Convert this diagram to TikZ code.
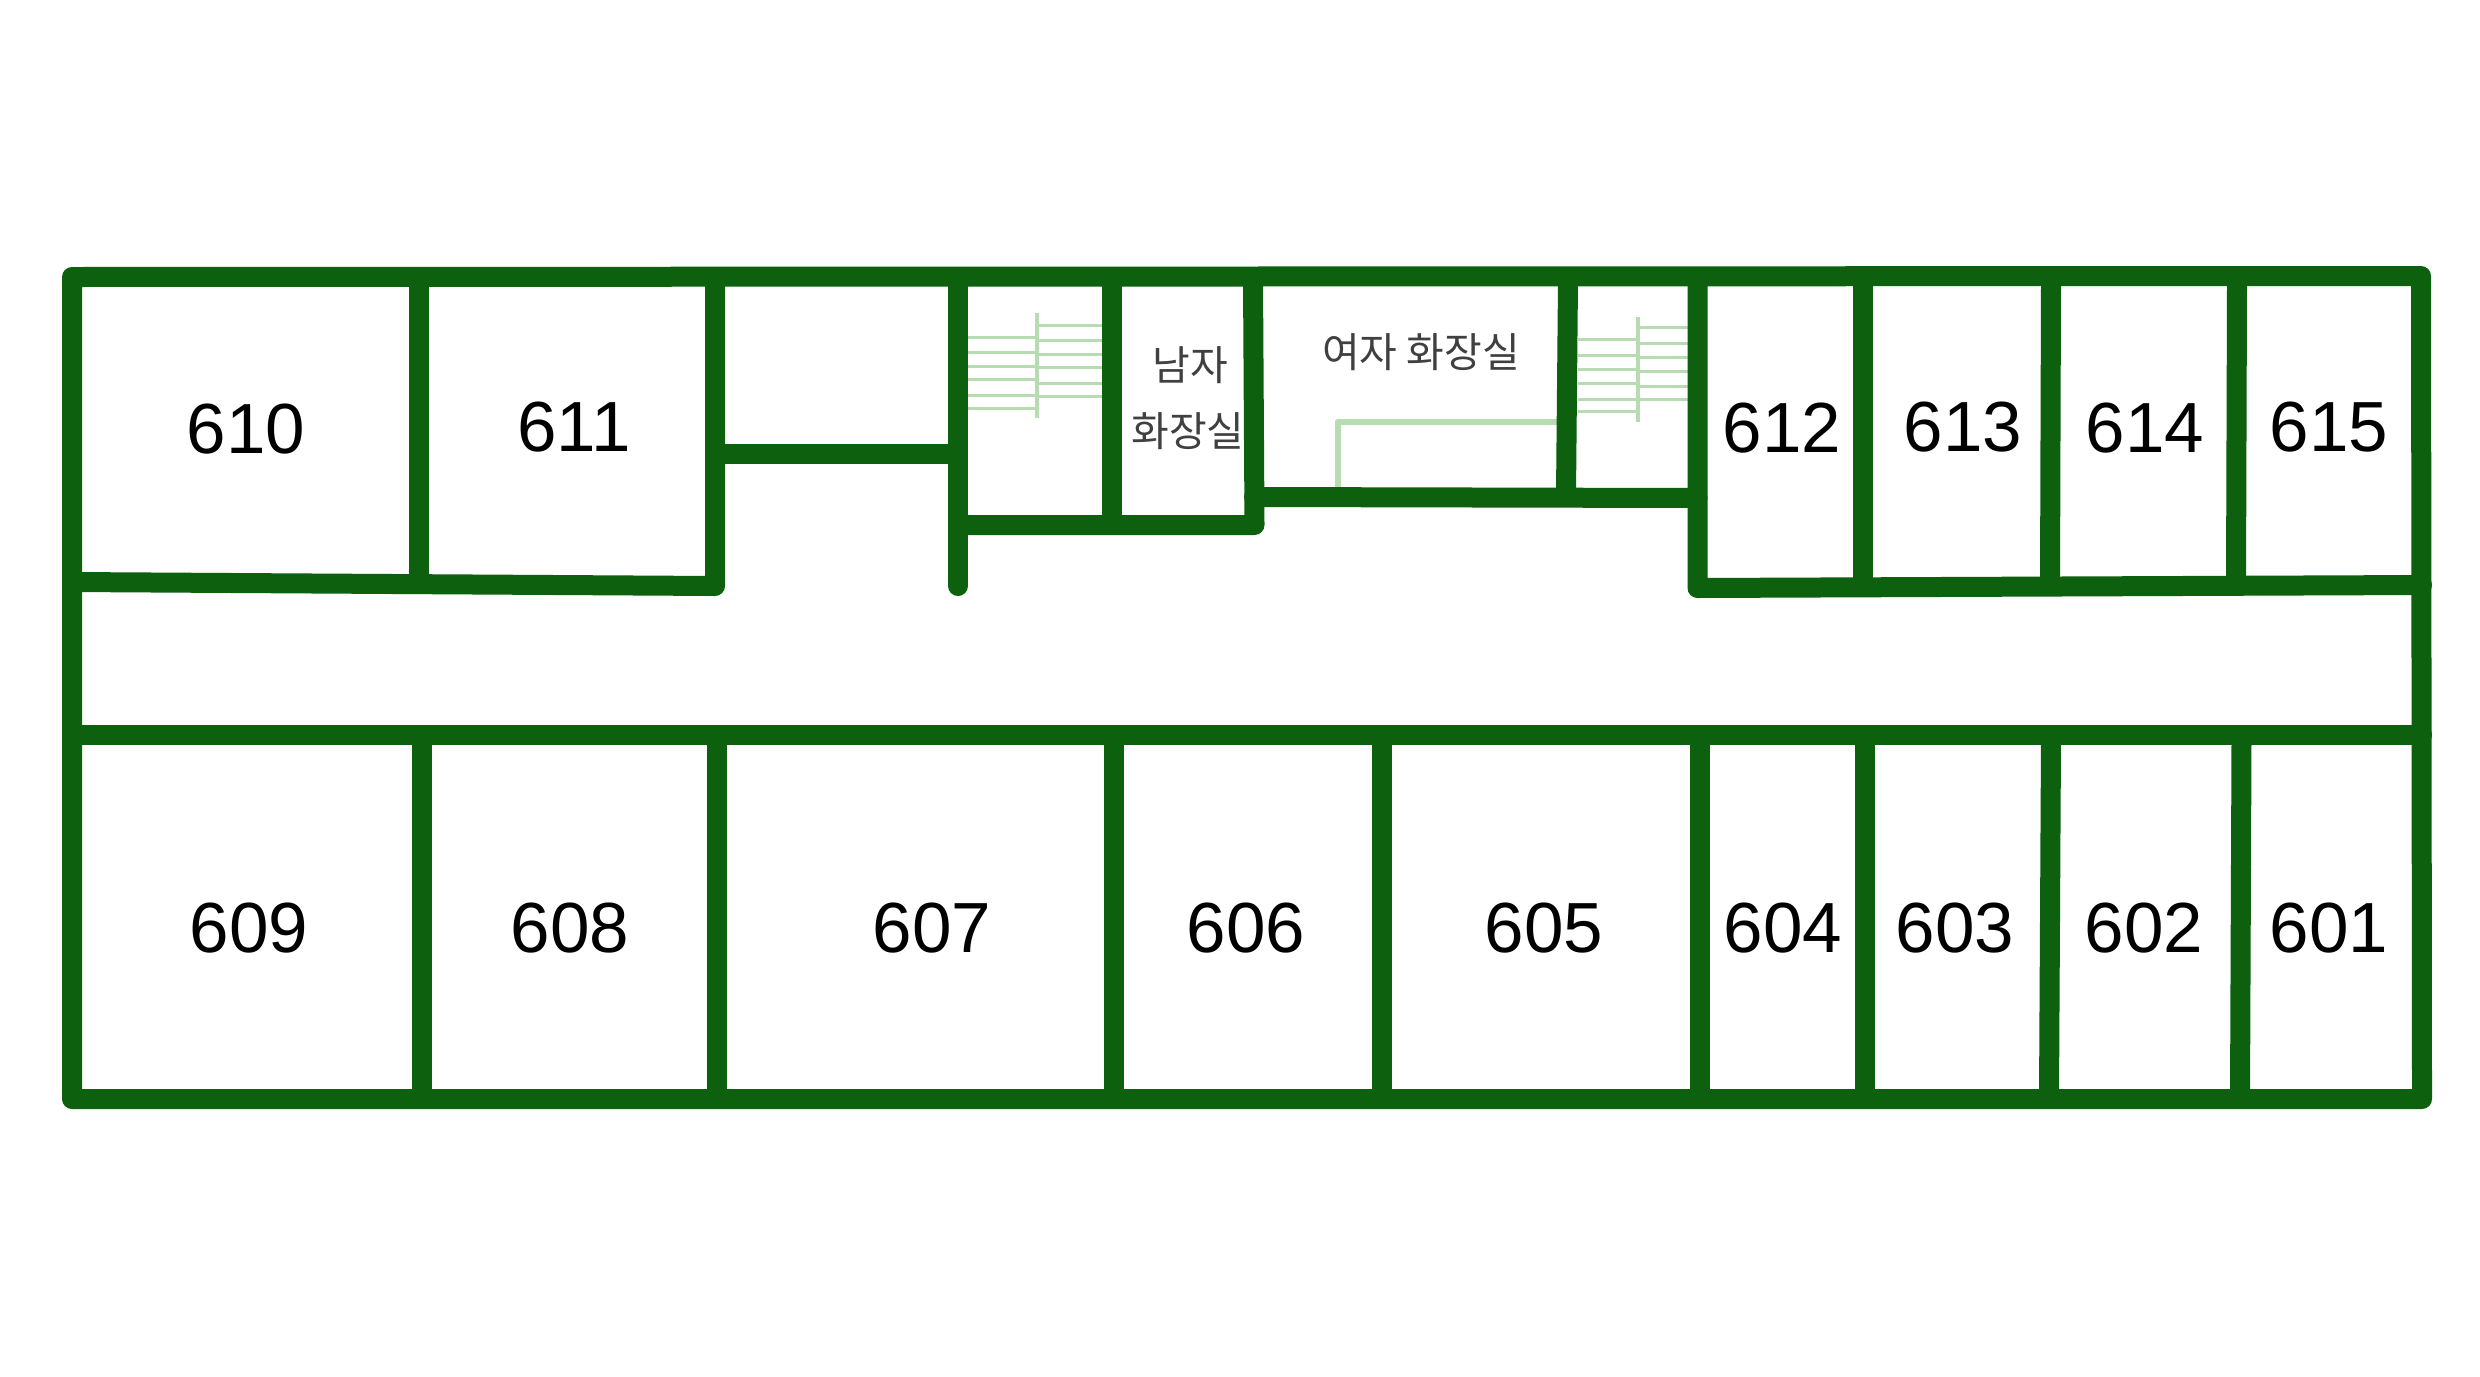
\documentclass[tikz,border=0pt]{standalone}
\usepackage{fontspec}
\setmainfont{Liberation Sans}
\newfontfamily\krfont{Noto Sans CJK KR}
\definecolor{wallgreen}{HTML}{0C600E}
\definecolor{stairgreen}{HTML}{B7DCB2}
\tikzset{
  wall/.style={draw=wallgreen,line width=20pt,line cap=round,line join=round},
  tread/.style={draw=stairgreen,line width=3pt},
  stringer/.style={draw=stairgreen,line width=4pt},
  fixture/.style={draw=stairgreen,line width=6pt,line join=round},
  room/.style={inner sep=0pt,text=black,font=\fontsize{71}{72}\selectfont},
  wc/.style={inner sep=0pt,text=black!75,font=\krfont\fontsize{41}{41}\selectfont}
}
\begin{document}
\begin{tikzpicture}[x=1pt,y=-1pt]
\useasboundingbox (0,0) rectangle (2480,1376);
\fill[white] (0,0) rectangle (2480,1376);
% stairs, left
\foreach \y in {337,352,366,379,395,408} \draw[tread] (968,\y) -- (1037,\y);
\foreach \y in {325,340,354,367,383,396} \draw[tread] (1037,\y) -- (1102,\y);
\draw[stringer] (1037,313) -- (1037,418);
% stairs, right
\foreach \y in {339,355,369,383,399,411} \draw[tread] (1578,\y) -- (1638,\y);
\foreach \y in {327,343,357,371,386,399} \draw[tread] (1638,\y) -- (1688,\y);
\draw[stringer] (1638,317) -- (1638,422);
% fixture in women's room
\draw[fixture] (1337.5,487) -- (1337.5,422) -- (1560,422);
% walls
\draw[wall] (72,277) -- (2421,276) -- (2422,1099) -- (72,1099) -- cycle;
\draw[wall] (72,734.5) -- (2422,734.5);
\draw[wall] (72,582) -- (715,586) -- (715,277);
\draw[wall] (418.5,280) -- (418.5,580);
\draw[wall] (715,453.5) -- (958,453.5);
\draw[wall] (958,280) -- (958,586);
\draw[wall] (958,525) -- (1254.5,525) -- (1253,280);
\draw[wall] (1112,280) -- (1112,522);
\draw[wall] (1254,497) -- (1697.5,498);
\draw[wall] (1568,280) -- (1566,494);
\draw[wall] (1697.5,280) -- (1697.5,588) -- (2422,585);
\draw[wall] (1863,280) -- (1863,584);
\draw[wall] (2051,280) -- (2050,583);
\draw[wall] (2237,280) -- (2236,582);
\draw[wall] (422,738) -- (422,1096);
\draw[wall] (717,738) -- (717,1096);
\draw[wall] (1114,738) -- (1114,1096);
\draw[wall] (1382,738) -- (1382,1096);
\draw[wall] (1700,738) -- (1700,1096);
\draw[wall] (1864.5,738) -- (1864.5,1096);
\draw[wall] (2051,738) -- (2049,1096);
\draw[wall] (2241.5,738) -- (2240,1096);
% room numbers
\node[room] (r610) at (246,429) {610};
\node[room] (r611) at (574,427.5) {611};
\node[room] (r612) at (1782,428.5) {612};
\node[room] (r613) at (1963,427) {613};
\node[room] (r614) at (2145,428) {614};
\node[room] (r615) at (2329,427.5) {615};
\node[room] (r609) at (249,928) {609};
\node[room] (r608) at (570,928) {608};
\node[room] (r607) at (932,928) {607};
\node[room] (r606) at (1246,928) {606};
\node[room] (r605) at (1544,928) {605};
\node[room] (r604) at (1783,928) {604};
\node[room] (r603) at (1955,928) {603};
\node[room] (r602) at (2144,928) {602};
\node[room] (r601) at (2329,928) {601};
% washrooms
\node[wc] (men1) at (1190,365) {남자};
\node[wc] (men2) at (1188,431) {화장실};
\node[wc] (women) at (1421,352) {여자 화장실};
\end{tikzpicture}
\end{document}
